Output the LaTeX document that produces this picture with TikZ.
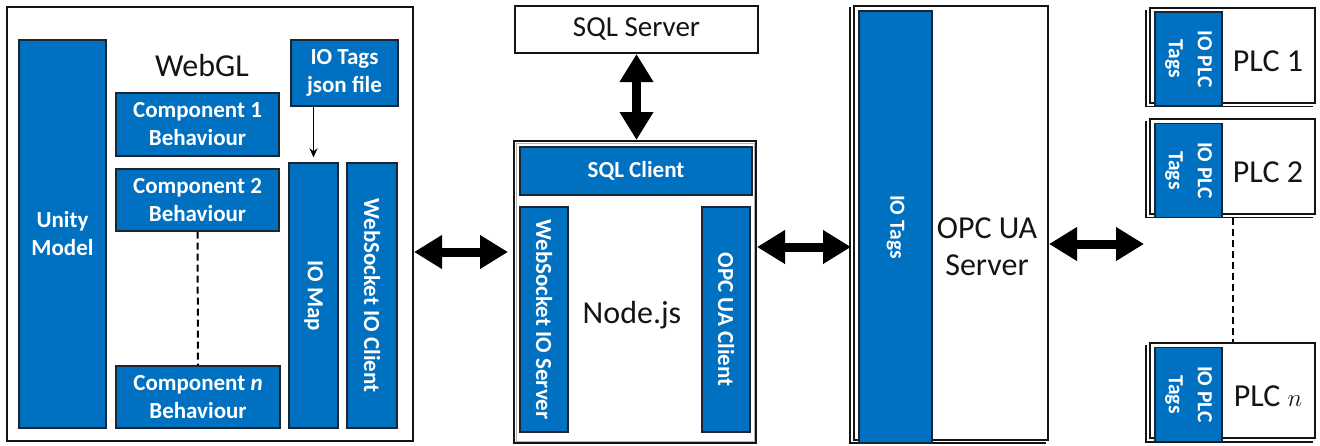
\documentclass[tikz,border=0pt]{standalone}
\usepackage{fontspec}
\setmainfont{Carlito}
\usepackage{amsmath}
\usetikzlibrary{positioning, calc, arrows.meta}
\definecolor{Ink}{HTML}{141414}
\definecolor{Office}{HTML}{0070C0}
\definecolor{Edge}{HTML}{1C2533}
\newcommand{\labelfont}{\fontsize{32}{37}\selectfont}
\newcommand{\boxfont}{\fontsize{23}{28}\selectfont\bfseries}
\newcommand{\tagfont}{\fontsize{21.5}{29}\selectfont\bfseries}
\tikzset{
    frame/.style={rectangle, draw=Ink, line width=2pt, fill=white, inner sep=0pt},
    twinline/.style={draw=Ink, line width=1.5pt},
    innerline/.style={draw=gray!60, line width=1pt},
    bluebox/.style={rectangle, draw=Edge, line width=1.3pt, fill=Office, text=white, align=center, inner sep=0pt, font=\boxfont},
    vbluebox/.style={bluebox, rotate=-90},
    lbl/.style={text=Ink, align=center, font=\labelfont},
    bigarrow/.style={{Triangle[length=28pt,width=32pt]}-{Triangle[length=28pt,width=32pt]}, line width=9pt, color=black},
    thinarrow/.style={-{Stealth[length=9pt,width=8pt]}, line width=1.5pt, color=black},
    dotline/.style={line width=2pt, dash pattern=on 7pt off 4pt},
}

\begin{document}
\begin{tikzpicture}[x=1pt, y=-1pt]
    \useasboundingbox (0,0) rectangle (1320,445);

    % WebGL
    \node[frame, minimum width=406pt, minimum height=434pt] (webgl) at (210,224) {};
    \node[lbl] (webgltxt) at (202,65) {WebGL};
    \node[bluebox, minimum width=87pt, minimum height=388pt] (unity) at (62.5,234) {Unity\\Model};
    \node[bluebox, minimum width=163pt, minimum height=63pt] (comp1) at (197.5,124.5) {Component 1\\Behaviour};
    \node[bluebox, minimum width=163pt, minimum height=62pt] (comp2) at (197.5,200) {Component 2\\Behaviour};
    \node[bluebox, minimum width=164pt, minimum height=62pt] (compn) at (198,397) {Component \textit{n}\\Behaviour};
    \node[bluebox, minimum width=107pt, minimum height=66pt] (iojson) at (344.5,73) {IO Tags\\json file};
    \node[vbluebox, minimum width=265pt, minimum height=49pt] (iomap) at (313.5,295.5) {IO Map};
    \node[vbluebox, minimum width=265pt, minimum height=50pt] (wsclient) at (372,295.5) {WebSocket IO Client};
    \draw[dotline] (comp2.south) -- (compn.north);
    \draw[thinarrow, shorten >=5pt] (iomap.west |- iojson.south) -- (iomap.west);

    % Node.js
    \node[frame, minimum width=243pt, minimum height=47pt, lbl, font=\fontsize{29}{34}\selectfont] (sqlserver) at (636.5,29.5) {SQL Server};
    \node[frame, minimum width=242pt, minimum height=302pt] (nodejs) at (635,292) {};
    \draw[innerline] ([shift={(3pt,3pt)}]nodejs.south west) rectangle ([shift={(-3pt,-3pt)}]nodejs.north east);
    \node[bluebox, minimum width=232pt, minimum height=48pt] (sqlclient) at (636,171) {SQL Client};
    \node[vbluebox, minimum width=225pt, minimum height=48pt] (wsserver) at (544,319.5) {WebSocket IO Server};
    \node[vbluebox, minimum width=225pt, minimum height=48pt] (opcclient) at (726,319.5) {OPC UA Client};
    \node[lbl] (nodetxt) at (632,315) {Node.js};
    \draw[bigarrow] (sqlserver.south) -- (sqlserver.south |- nodejs.north);

    % OPC UA
    \node[frame, minimum width=194pt, minimum height=434pt] (opc) at (951,223) {};
    \draw[twinline] ([shift={(-3pt,-2pt)}]opc.north west) -- ([shift={(-3pt,-2pt)}]opc.south west) -- ([shift={(-3pt,-2pt)}]opc.south east);
    \node[vbluebox, font=\tagfont, minimum width=432pt, minimum height=73pt] (iotags) at (895.5,227) {IO Tags};
    \node[lbl] (opctxt) at (987,247) {OPC UA\\Server};

    % PLCs
    \foreach \id/\yc/\yt/\num in {1/55/59/1, 2/166/170.5/2, n/390.5/394.5/{$n$}} {
        \node[frame, minimum width=165pt, minimum height=95pt] (plc\id) at (1232.5,\yc) {};
        \draw[twinline] ([shift={(-3pt,-3pt)}]plc\id.north west) -- ([shift={(-3pt,-3pt)}]plc\id.south west) -- ([shift={(-3pt,-3pt)}]plc\id.south east);
        \node[vbluebox, font=\tagfont, minimum width=94pt, minimum height=67pt] (tags\id) at (1188.5,\yt) {IO PLC\\Tags};
        \node[lbl] (plctxt\id) at (1268,\yt+2) {PLC \num};
    }
    \draw[dotline] (plc2.south |- tags2.east) -- (plcn.north);

    % Verbindungen
    \coordinate (wsin) at ([yshift=-28pt]webgl.east);
    \coordinate (opcin) at ([yshift=45pt]nodejs.east);
    \coordinate (plcin) at ([yshift=-21pt]opc.east);
    \draw[bigarrow, shorten >=5pt] (wsin) -- (wsin -| nodejs.west);
    \draw[bigarrow, shorten >=2pt] (opcin) -- (opcin -| opc.west);
    \draw[bigarrow, shorten >=5pt] (plcin) -- (plcin -| plc2.west);
\end{tikzpicture}
\end{document}
